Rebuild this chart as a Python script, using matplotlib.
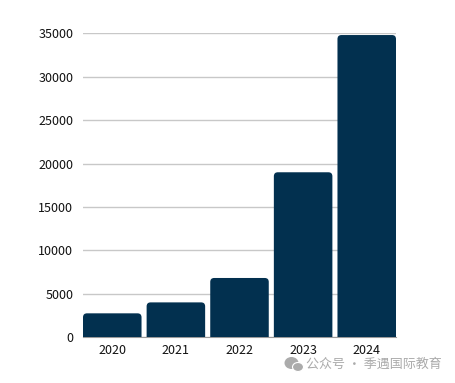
import matplotlib
matplotlib.use("Agg")
import matplotlib.pyplot as plt
from matplotlib.patches import Ellipse, PathPatch
from matplotlib.path import Path

plt.rcParams['font.family'] = ['Noto Sans CJK SC', 'DejaVu Sans']

# ── Data ───────────────────────────────────────────────────────────────────────
years  = ['2020', '2021', '2022', '2023', '2024']
values = [2760, 4020, 6830, 19000, 34800]
yticks = [0, 5000, 10000, 15000, 20000, 25000, 30000, 35000]

BAR_COLOR = '#02304f'
BAR_WIDTH = 0.92

W, H = 455, 383
fig = plt.figure(figsize=(W / 100, H / 100), dpi=100)
ax = fig.add_axes([83 / W, 1 - 337.3 / H, 313 / W, 304 / H])
ax.set_xlim(-0.46, 4.46)
ax.set_ylim(0, 35000)

# corner radius: 4 px expressed in data units
rx = 4 * (4.92 / 313)
ry = 4 * (35000 / 304)


def rounded_bar(xc, h):
    # bar with rounded top corners, square at the baseline
    x0, x1 = xc - BAR_WIDTH / 2, xc + BAR_WIDTH / 2
    verts = [(x0, 0), (x0, h - ry), (x0, h), (x0 + rx, h),
             (x1 - rx, h), (x1, h), (x1, h - ry), (x1, 0), (x0, 0)]
    codes = [Path.MOVETO, Path.LINETO, Path.CURVE3, Path.CURVE3,
             Path.LINETO, Path.CURVE3, Path.CURVE3, Path.LINETO, Path.CLOSEPOLY]
    return PathPatch(Path(verts, codes), fc=BAR_COLOR, ec='none', zorder=3)


for i, v in enumerate(values):
    ax.add_patch(rounded_bar(i, v))

ax.set_xticks(range(len(years)), years)
ax.set_yticks(yticks)
ax.tick_params(length=0, labelsize=9, colors='#111111')
ax.tick_params(axis='y', pad=7)
ax.tick_params(axis='x', pad=5)
ax.grid(axis='y', color='#c8c8c8', lw=1.0, zorder=0)
ax.set_axisbelow(True)
for s in ['top', 'right', 'left']:
    ax.spines[s].set_visible(False)
ax.spines['bottom'].set_color('#9a9a9a')
ax.spines['bottom'].set_zorder(2)

# ── Watermark ──────────────────────────────────────────────────────────────────
fig.text(306 / W, 1 - 364 / H, '公众号 · 季遇国际教育', fontsize=9.4,
         color='#ababab', va='center')

# wechat-style icon, drawn in pixel coords of the figure
overlay = fig.add_axes([0, 0, 1, 1], facecolor='none')
overlay.set_xlim(0, W)
overlay.set_ylim(H, 0)
overlay.axis('off')
overlay.add_patch(Ellipse((291.5, 363), 14, 12, fc='#ababab', ec='none'))
overlay.add_patch(Ellipse((298, 367), 11, 9, fc='#ababab', ec='white', lw=0.8))

fig.savefig('out.png', dpi=100)
